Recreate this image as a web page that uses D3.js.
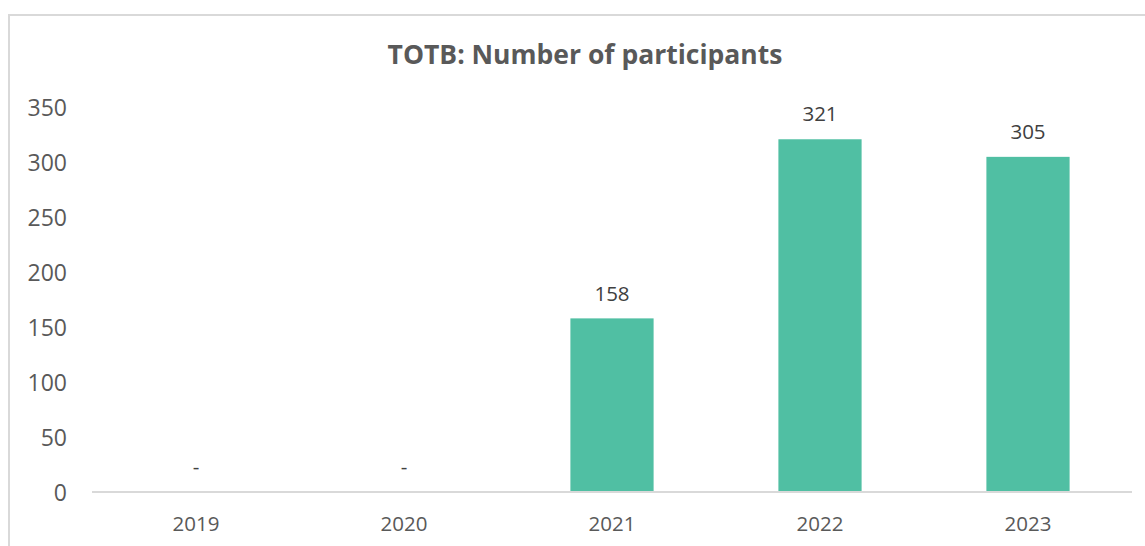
<!DOCTYPE html>
<html><head><meta charset="utf-8">
<script src="https://cdn.jsdelivr.net/npm/d3@7"></script>
<style>html,body{margin:0;padding:0;background:#fff;overflow:hidden}</style>
</head><body>
<svg id="c" width="1145" height="546"></svg>
<script>
const categories = ["2019","2020","2021","2022","2023"];
const values = [0, 0, 158, 321, 305];
const valueLabels = ["-", "-", "158", "321", "305"];
const yTicks = [0, 50, 100, 150, 200, 250, 300, 350];
const title = "TOTB: Number of participants";

(function () {
const svg = d3.select("#c");
const W = 1145, H = 546;
const font = "'Open Sans', 'Noto Sans', sans-serif";
const mLeft = 92, mRight = 1132, mTop = 107.4, mBottom = 492;

// chart border
svg.append("path")
  .attr("d", `M9,${H+5} L9,15 L${W+5},15`)
  .attr("fill", "none").attr("stroke", "#d9d9d9").attr("stroke-width", 2);

const x = d3.scaleBand().domain(categories).range([mLeft, mRight]).paddingInner(0.6).paddingOuter(0.3);
const y = d3.scaleLinear().domain([0, 350]).range([mBottom, mTop]);

// title
svg.append("text").attr("x", 585).attr("y", 64)
  .attr("text-anchor", "middle")
  .attr("font-family", font).attr("font-weight", "bold").attr("font-size", 26.5)
  .attr("fill", "#595959").text(title);

// y axis
const ya = svg.append("g").attr("transform", `translate(67,0)`)
  .call(d3.axisLeft(y).tickValues(yTicks).tickSize(0).tickPadding(0).tickFormat(d3.format("d")));
ya.select(".domain").remove();
ya.selectAll("text").attr("font-family", font).attr("font-size", 23).attr("fill", "#595959").attr("dy", "0.35em");

// bars
svg.append("g").selectAll("rect").data(categories).join("rect")
  .attr("x", d => x(d)).attr("width", x.bandwidth())
  .attr("y", (d, i) => y(values[i])).attr("height", (d, i) => mBottom - y(values[i]))
  .attr("fill", "#50BFA3");

// x axis
const xa = svg.append("g").attr("transform", `translate(0,${mBottom})`)
  .call(d3.axisBottom(x).tickSize(0).tickPadding(0));
xa.select(".domain").attr("stroke", "#d9d9d9").attr("stroke-width", 2).attr("d", `M${mLeft},0H${mRight}`);
xa.selectAll("text").attr("font-family", font).attr("font-size", 20.5).attr("fill", "#595959")
  .attr("y", 32).attr("dy", "0.35em");

// data labels
svg.append("g").selectAll("text").data(categories).join("text")
  .attr("x", d => x(d) + x.bandwidth() / 2)
  .attr("y", (d, i) => y(values[i]) - 25)
  .attr("dy", "0.35em").attr("text-anchor", "middle")
  .attr("font-family", font).attr("font-size", 20.5).attr("fill", "#404040")
  .text((d, i) => valueLabels[i]);
})();
</script>
</body></html>
